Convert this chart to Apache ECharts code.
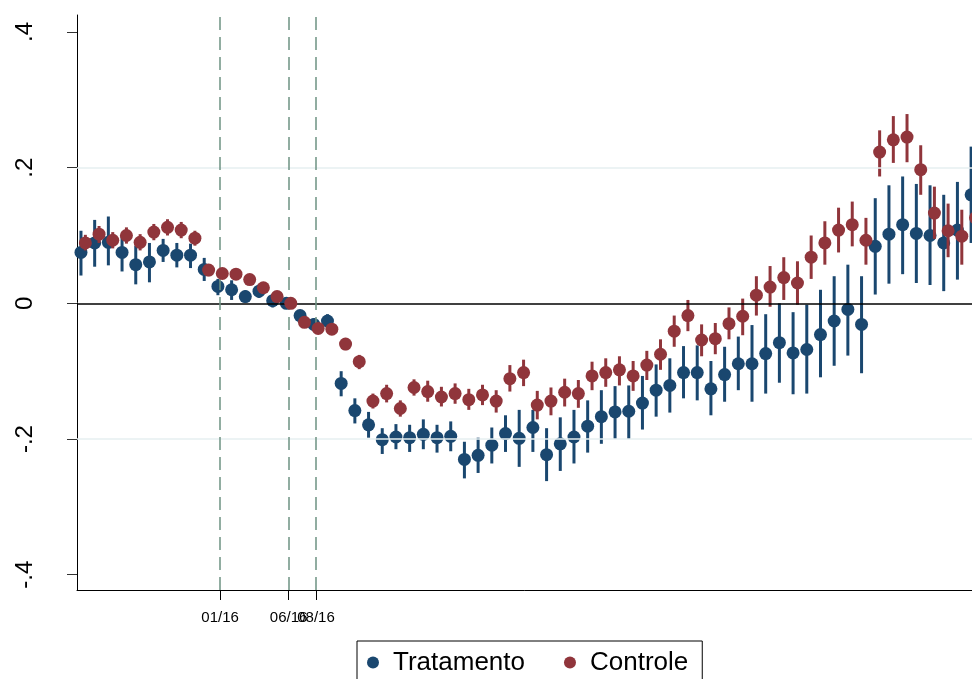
<!DOCTYPE html>
<html>
<head>
<meta charset="utf-8">
<script src="https://cdn.jsdelivr.net/npm/echarts@6/dist/echarts.min.js"></script>
<style>
html,body{margin:0;padding:0;background:#fff;}
#chart{width:972px;height:679px;}
</style>
</head>
<body>
<div id="chart"></div>
<script>
// Months (categories)
const months = [
 '03/15','04/15','05/15','06/15','07/15','08/15','09/15','10/15','11/15','12/15',
 '01/16','02/16','03/16','04/16','05/16','06/16','07/16','08/16','09/16','10/16','11/16','12/16',
 '01/17','02/17','03/17','04/17','05/17','06/17','07/17','08/17','09/17','10/17','11/17','12/17',
 '01/18','02/18','03/18','04/18','05/18','06/18','07/18','08/18','09/18','10/18','11/18','12/18',
 '01/19','02/19','03/19','04/19','05/19','06/19','07/19','08/19','09/19','10/19','11/19','12/19',
 '01/20','02/20','03/20','04/20','05/20','06/20','07/20','08/20'
];
const refMonth = '01/16';

// Tratamento
const tratVal = [0.075,0.089,0.090,0.075,0.057,0.061,0.078,0.071,0.071,0.050,
 0.025,0.020,0.010,0.018,0.004,0,-0.018,-0.031,-0.026,-0.118,
 -0.158,-0.179,-0.201,-0.197,-0.198,-0.193,-0.198,-0.196,-0.230,-0.224,
 -0.209,-0.192,-0.199,-0.183,-0.223,-0.207,-0.197,-0.181,-0.167,-0.160,
 -0.159,-0.147,-0.128,-0.121,-0.102,-0.102,-0.126,-0.105,-0.089,-0.089,
 -0.074,-0.058,-0.073,-0.068,-0.046,-0.026,-0.009,-0.031,0.084,0.102,
 0.116,0.103,0.100,0.089,0.108,0.160];
const tratLo = [0.041,0.054,0.056,0.047,0.028,0.031,0.061,0.053,0.052,0.033,
 0.012,0.005,0.001,0.008,-0.006,0,-0.026,-0.040,-0.036,-0.137,
 -0.177,-0.198,-0.222,-0.215,-0.219,-0.215,-0.220,-0.218,-0.258,-0.250,
 -0.236,-0.219,-0.241,-0.219,-0.262,-0.247,-0.236,-0.220,-0.207,-0.200,
 -0.200,-0.186,-0.167,-0.161,-0.140,-0.143,-0.165,-0.145,-0.128,-0.145,
 -0.133,-0.117,-0.134,-0.133,-0.109,-0.092,-0.077,-0.103,0.013,0.029,
 0.043,0.030,0.027,0.018,0.035,0.089];
const tratHi = [0.107,0.123,0.128,0.100,0.085,0.089,0.095,0.089,0.088,0.067,
 0.036,0.034,0.019,0.028,0.013,0,-0.010,-0.022,-0.016,-0.100,
 -0.140,-0.160,-0.184,-0.178,-0.179,-0.171,-0.179,-0.174,-0.204,-0.198,
 -0.183,-0.165,-0.157,-0.157,-0.184,-0.168,-0.157,-0.143,-0.128,-0.122,
 -0.121,-0.107,-0.090,-0.081,-0.063,-0.062,-0.085,-0.064,-0.049,-0.032,
 -0.016,0.000,-0.013,-0.002,0.020,0.040,0.057,0.040,0.155,0.174,
 0.187,0.176,0.174,0.160,0.179,0.231];

// Controle
const contVal = [0.089,0.102,0.093,0.100,0.090,0.105,0.112,0.108,0.096,0.049,
 0.044,0.043,0.035,0.023,0.010,0,-0.028,-0.037,-0.038,-0.060,
 -0.086,-0.144,-0.133,-0.155,-0.124,-0.130,-0.138,-0.133,-0.142,-0.135,
 -0.144,-0.111,-0.102,-0.150,-0.144,-0.131,-0.133,-0.107,-0.102,-0.098,
 -0.107,-0.091,-0.075,-0.041,-0.018,-0.054,-0.052,-0.030,-0.019,0.012,
 0.024,0.038,0.030,0.068,0.089,0.108,0.116,0.093,0.223,0.241,
 0.245,0.197,0.133,0.107,0.099,0.126];
const contLo = [0.078,0.089,0.081,0.088,0.078,0.093,0.100,0.096,0.085,0.040,
 0.036,0.035,0.027,0.016,0.004,0,-0.034,-0.044,-0.045,-0.069,
 -0.097,-0.155,-0.146,-0.167,-0.136,-0.145,-0.152,-0.148,-0.157,-0.150,
 -0.161,-0.130,-0.122,-0.171,-0.165,-0.152,-0.154,-0.128,-0.123,-0.121,
 -0.129,-0.113,-0.098,-0.064,-0.041,-0.078,-0.075,-0.053,-0.047,-0.018,
 -0.005,0.005,-0.002,0.036,0.057,0.075,0.084,0.057,0.187,0.207,
 0.208,0.160,0.095,0.068,0.057,0.085];
const contHi = [0.101,0.114,0.105,0.112,0.102,0.117,0.124,0.120,0.107,0.058,
 0.052,0.051,0.043,0.030,0.017,0,-0.022,-0.030,-0.031,-0.051,
 -0.076,-0.133,-0.120,-0.143,-0.112,-0.114,-0.123,-0.118,-0.126,-0.120,
 -0.128,-0.091,-0.083,-0.129,-0.124,-0.111,-0.113,-0.086,-0.081,-0.078,
 -0.085,-0.070,-0.053,-0.018,0.005,-0.031,-0.029,-0.006,0.007,0.040,
 0.055,0.068,0.062,0.100,0.121,0.141,0.150,0.126,0.255,0.276,
 0.279,0.233,0.172,0.147,0.138,0.165];

// Axis ticks / labels
const xTickLabels = ['01/16','06/16','08/16'];
const yTickValues = [-0.4,-0.2,0,0.2,0.4];
const yTickLabels = ['-.4','-.2','0','.2','.4'];
const yGridValues = [-0.2,0.2];

const BLUE = '#1a476f', RED = '#90353b';
const FONT = '"Liberation Sans", Arial, Helvetica, sans-serif';
const OFF = 0.16;
const XMIN = -10.45, XMAX = 56;

const ref = months.indexOf(refMonth);
const xIdx = months.map((m,i)=>i-ref);
const xTickPos = xTickLabels.map(l=>months.indexOf(l)-ref);
// split labels over two stacked axes so overlapping labels are all drawn
const xTickPosA = xTickPos.filter((v,i)=>i%2===0);
const xTickPosB = xTickPos.filter((v,i)=>i%2===1);

function ciData(lo,hi,off){return xIdx.map((x,i)=>[x+off,lo[i],hi[i]]);}
function ptData(v,off){return xIdx.map((x,i)=>[x+off,v[i]]);}
function barRenderer(color){
  return function(params, api){
    const x = api.value(0);
    const p1 = api.coord([x, api.value(1)]);
    const p2 = api.coord([x, api.value(2)]);
    return {type:'line', shape:{x1:p1[0],y1:p1[1],x2:p2[0],y2:p2[1]},
      style:{stroke:color, lineWidth:3}};
  };
}
function xFmt(v){const i=xTickPos.indexOf(Math.round(v)); return i>=0?xTickLabels[i]:'';}
function makeXAxis(vals, showLine){
  return {
    type:'value', min:XMIN, max:XMAX, position:'bottom', offset:0,
    axisLine:{show:showLine, onZero:false, lineStyle:{color:'#000', width:1}},
    axisTick:{show:true, customValues:vals, length:10, lineStyle:{color:'#000', width:1}},
    axisLabel:{customValues:vals, margin:20, fontSize:15, color:'#000', fontFamily:FONT,
      hideOverlap:false, showMinLabel:true, showMaxLabel:true, formatter:xFmt},
    splitLine:{show:false}
  };
}

const chart = echarts.init(document.getElementById('chart'), null, {renderer:'canvas'});
chart.setOption({
  animation:false,
  backgroundColor:'#fff',
  grid:{left:77, top:15, width:910, height:575, containLabel:false, outerBoundsMode:'none'},
  xAxis:[ makeXAxis(xTickPosA, true), makeXAxis(xTickPosB, false) ],
  yAxis:{
    type:'value', min:-0.4225, max:0.425,
    axisLine:{show:true, onZero:false, lineStyle:{color:'#000', width:1}},
    axisTick:{show:true, customValues:yTickValues, length:10, lineStyle:{color:'#333', width:1}},
    axisLabel:{customValues:yTickValues, rotate:90, margin:40, fontSize:24, color:'#000', fontFamily:FONT,
      hideOverlap:false, showMinLabel:true, showMaxLabel:true,
      formatter:function(v){for(let i=0;i<yTickValues.length;i++){if(Math.abs(v-yTickValues[i])<1e-6)return yTickLabels[i];}return '';}},
    splitLine:{show:false}
  },
  legend:{
    data:[{name:'Tratamento', icon:'circle'},{name:'Controle', icon:'circle'}],
    left:357, top:641, orient:'horizontal',
    itemWidth:12, itemHeight:12, itemGap:39,
    padding:[8,14,10,10],
    borderColor:'#000', borderWidth:1,
    textStyle:{fontSize:26, color:'#000', fontFamily:FONT, lineHeight:27, padding:[0,0,0,9]}
  },
  series:[
    {
      name:'lines', type:'scatter', data:[], z:1, silent:true,
      markLine:{silent:true, symbol:'none', label:{show:false}, animation:false,
        data:[
          ...yGridValues.map(v=>({yAxis:v, lineStyle:{color:'#e6eff1', width:1.5, type:'solid'}})),
          {yAxis:0, lineStyle:{color:'#000', width:1.5, type:'solid'}},
          ...xTickPos.map(v=>({xAxis:v, lineStyle:{color:'#6e9282', width:1.5, type:[13,7]}}))
        ]}
    },
    {name:'Tratamento IC', type:'custom', renderItem:barRenderer(BLUE), data:ciData(tratLo,tratHi,-OFF),
      encode:{x:0, y:[1,2]}, z:2, silent:true},
    {name:'Tratamento', type:'scatter', data:ptData(tratVal,-OFF), symbol:'circle', symbolSize:13,
      itemStyle:{color:BLUE, opacity:1}, z:3},
    {name:'Controle IC', type:'custom', renderItem:barRenderer(RED), data:ciData(contLo,contHi,OFF),
      encode:{x:0, y:[1,2]}, z:4, silent:true},
    {name:'Controle', type:'scatter', data:ptData(contVal,OFF), symbol:'circle', symbolSize:13,
      itemStyle:{color:RED, opacity:1}, z:5}
  ]
});
</script>
</body>
</html>
